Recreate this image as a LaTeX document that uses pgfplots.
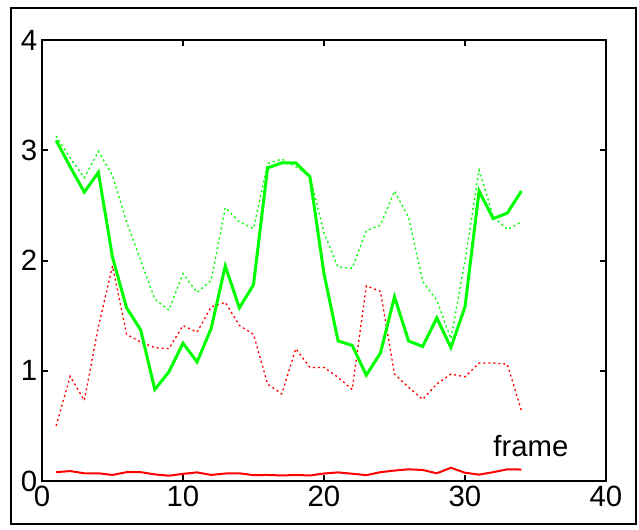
\documentclass[border=0pt]{standalone}
\usepackage{pgfplots}
\pgfplotsset{compat=1.18}
\usepackage{fontspec}
\setmainfont{Liberation Sans}

\definecolor{mgreen}{rgb}{0,1,0}
\definecolor{mred}{rgb}{1,0,0}

\begin{document}
\begin{tikzpicture}
    % page = 639x529 px at 0.75pt per px
    \useasboundingbox (-31.5pt,-36pt) rectangle (447.75pt,360.75pt);
    \draw[line width=1.5pt] (-23.25pt,-32.25pt) rectangle (445.5pt,354.75pt);
    \begin{axis}[
            scale only axis,
            at={(0pt,0pt)}, anchor=south west,
            width=423pt, height=330.75pt,
            xmin=0, xmax=40,
            ymin=0, ymax=4,
            xtick={0,10,20,30,40},
            ytick={0,1,2,3,4},
            tick align=inside,
            major tick length=4.5pt,
            axis line style={line width=1.5pt},
            every tick/.style={line width=1.5pt, black},
            tick label style={font=\fontsize{22}{24}\selectfont},
            /pgf/number format/assume math mode=true,
            clip=false
        ]

        % slow series (dotted)
        \addplot[mgreen, line width=1pt, dash pattern=on 1.5pt off 2.25pt] coordinates {
            (1,3.13) (2,2.93) (3,2.75) (4,2.99) (5,2.77) (6,2.35) (7,2.0) (8,1.65)
            (9,1.55) (10,1.88) (11,1.71) (12,1.82) (13,2.48) (14,2.35) (15,2.29)
            (16,2.88) (17,2.92) (18,2.85) (19,2.77) (20,2.25) (21,1.94) (22,1.93)
            (23,2.27) (24,2.32) (25,2.63) (26,2.39) (27,1.81) (28,1.64) (29,1.29)
            (30,2.0) (31,2.82) (32,2.4) (33,2.28) (34,2.35)};

        \addplot[mred, line width=1pt, dash pattern=on 1.5pt off 2.25pt] coordinates {
            (1,0.5) (2,0.95) (3,0.73) (4,1.4) (5,1.95) (6,1.33) (7,1.26) (8,1.21)
            (9,1.2) (10,1.41) (11,1.35) (12,1.58) (13,1.62) (14,1.41) (15,1.33)
            (16,0.88) (17,0.79) (18,1.2) (19,1.03) (20,1.03) (21,0.94) (22,0.83)
            (23,1.77) (24,1.72) (25,0.97) (26,0.85) (27,0.74) (28,0.88) (29,0.97)
            (30,0.945) (31,1.07) (32,1.07) (33,1.06) (34,0.64)};

        % solid series
        \addplot[mgreen, line width=2.25pt] coordinates {
            (1,3.09) (2,2.85) (3,2.62) (4,2.8) (5,2.03) (6,1.57) (7,1.37) (8,0.83)
            (9,0.99) (10,1.25) (11,1.08) (12,1.385) (13,1.95) (14,1.57) (15,1.78)
            (16,2.84) (17,2.885) (18,2.885) (19,2.76) (20,1.88) (21,1.27) (22,1.23)
            (23,0.96) (24,1.16) (25,1.67) (26,1.27) (27,1.22) (28,1.48) (29,1.21)
            (30,1.58) (31,2.63) (32,2.38) (33,2.43) (34,2.63)};

        \addplot[mred, line width=1.5pt] coordinates {
            (1,0.08) (2,0.09) (3,0.07) (4,0.07) (5,0.055) (6,0.08) (7,0.08) (8,0.06)
            (9,0.048) (10,0.065) (11,0.078) (12,0.055) (13,0.068) (14,0.07) (15,0.053)
            (16,0.055) (17,0.05) (18,0.055) (19,0.05) (20,0.068) (21,0.078) (22,0.066)
            (23,0.053) (24,0.08) (25,0.095) (26,0.106) (27,0.1) (28,0.07) (29,0.12)
            (30,0.075) (31,0.058) (32,0.08) (33,0.106) (34,0.104)};

        \node[anchor=base west, inner sep=0pt, font=\fontsize{22}{24}\selectfont] at (axis cs:32,0.22) {frame};
    \end{axis}
\end{tikzpicture}
\end{document}
